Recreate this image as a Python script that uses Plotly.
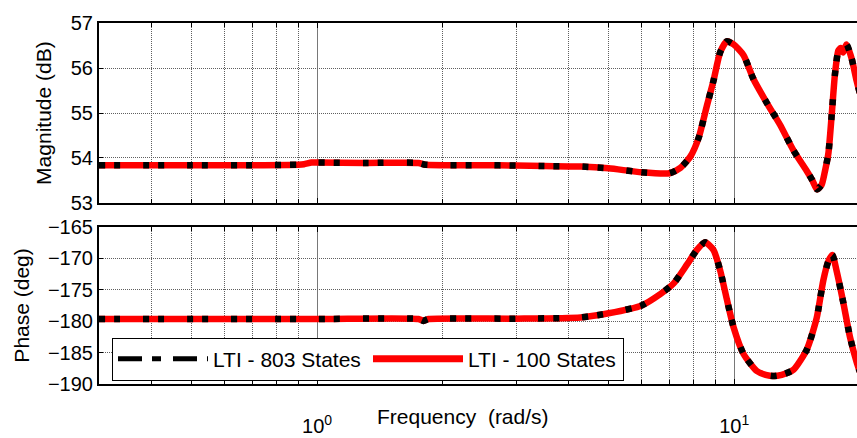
import math
import plotly.graph_objects as go

# ---- data ----
mag_freq = [0.3, 0.5, 0.7, 0.9, 0.93, 0.97, 1.0, 1.3, 1.75, 1.82, 2.5, 3.0, 3.5, 4.28, 5.0, 6.0, 7.0,
            7.43, 7.85, 8.22, 8.6, 8.92, 9.26, 9.6, 9.97, 10.53, 11.12, 11.97, 12.88, 13.87, 14.93,
            15.4, 15.8, 16.2, 16.5, 16.82, 17.13, 17.44, 17.77, 18.0, 18.26, 18.6, 19.12, 19.66, 20.0]
mag_db = [53.84, 53.84, 53.84, 53.85, 53.86, 53.9, 53.9, 53.89, 53.89, 53.85, 53.84, 53.83, 53.82, 53.81,
          53.77, 53.68, 53.66, 53.78, 54.03, 54.45, 55.16, 55.72, 56.36, 56.6, 56.53, 56.29, 55.76,
          55.23, 54.74, 54.17, 53.71, 53.5, 53.3, 53.4, 53.7, 54.1, 54.95, 55.86, 56.39, 56.45, 56.35,
          56.53, 56.22, 55.72, 55.45]

ph_freq = [0.3, 1.0, 1.75, 1.8, 1.85, 3.0, 4.28, 5.0, 6.0, 6.65, 7.16, 7.71, 8.14, 8.52, 8.92, 9.26,
           9.6, 9.97, 10.53, 11.33, 11.9, 12.42, 13.0, 13.87, 14.93, 15.77, 16.36, 16.82, 17.2, 17.6, 18.26,
           18.95, 19.66, 20.0]
ph_deg = [-179.65, -179.65, -179.65, -179.95, -179.65, -179.6, -179.4, -178.75, -177.5, -175.7, -174.0,
          -171.0, -168.7, -167.5, -168.7, -172.0, -176.5, -181.0, -185.2, -187.9, -188.5, -188.7, -188.5,
          -187.7, -184.5, -179.5, -173.5, -170.5, -169.5, -172.0, -177.0, -182.5, -186.5, -188.0]

series_names = ["LTI - 803 States", "LTI - 100 States"]
major_vals = [1, 10]
major_text = ["10<sup>0</sup>", "10<sup>1</sup>"]
minor_vals = [0.3, 0.4, 0.5, 0.6, 0.7, 0.8, 0.9, 2, 3, 4, 5, 6, 7, 8, 9, 20]
mag_ticks = [53, 54, 55, 56, 57]
ph_ticks = [-190, -185, -180, -175, -170, -165]

W, H = 857, 438
FONT = "Liberation Sans, Arial, sans-serif"
BLACK_DASH = "6px,9px,6px,23px"
LEG_DASH = "24px,10px,9px,12px"

fig = go.Figure()
# red (100 states) underneath, black (803 states) dashed on top
for xs, ys, ax in [(mag_freq, mag_db, ("x", "y")), (ph_freq, ph_deg, ("x2", "y2"))]:
    fig.add_trace(go.Scatter(x=xs, y=ys, mode="lines", xaxis=ax[0], yaxis=ax[1], showlegend=False,
                             line=dict(color="#ff0000", width=6.5, shape="spline", smoothing=0.6),
                             name=series_names[1]))
    fig.add_trace(go.Scatter(x=xs, y=ys, mode="lines", xaxis=ax[0], yaxis=ax[1], showlegend=False,
                             line=dict(color="#000000", width=6.5, dash=BLACK_DASH, shape="spline", smoothing=0.6),
                             name=series_names[0]))
# legend entries
fig.add_trace(go.Scatter(x=[None], y=[None], mode="lines", xaxis="x2", yaxis="y2", name=series_names[0],
                         line=dict(color="#000000", width=5, dash=LEG_DASH)))
fig.add_trace(go.Scatter(x=[None], y=[None], mode="lines", xaxis="x2", yaxis="y2", name=series_names[1],
                         line=dict(color="#ff0000", width=7)))

xr = [math.log10(0.3), math.log10(19.7)]
xdom = [99 / W, 1.0]
minor = dict(tickvals=minor_vals, ticks="inside", ticklen=4, tickcolor="black",
             showgrid=True, gridcolor="rgb(95,95,95)", griddash="1px,1px", gridwidth=1)
common_x = dict(type="log", range=xr, domain=xdom, tickmode="array", tickvals=major_vals, ticktext=major_text,
                ticks="inside", ticklen=5, tickcolor="black", showline=True, linecolor="black", linewidth=2,
                mirror="ticks", zeroline=False, showgrid=True, gridcolor="rgb(120,120,120)", gridwidth=1,
                minor=minor, tickfont=dict(size=20))
common_y = dict(ticks="inside", ticklen=4, tickcolor="black", showline=True, linecolor="black", linewidth=2,
                mirror=False, zeroline=False, showgrid=True, gridcolor="rgb(95,95,95)", griddash="1px,1px",
                gridwidth=1, tickfont=dict(size=20))

fig.update_layout(
    width=W, height=H, margin=dict(l=0, r=0, t=0, b=0),
    paper_bgcolor="white", plot_bgcolor="white",
    font=dict(family=FONT, size=21, color="black"),
    xaxis=dict(anchor="y", showticklabels=False, **common_x),
    xaxis2=dict(anchor="y2", showticklabels=True, ticklabelstandoff=23, **common_x),
    yaxis=dict(domain=[1 - 202 / H, 1 - 13 / H], range=[53, 57], tickvals=mag_ticks,
               title=dict(text="Magnitude (dB)", standoff=13, font=dict(size=21)), **common_y),
    yaxis2=dict(domain=[1 - 393 / H, 1 - 227 / H], range=[-190, -165], tickvals=ph_ticks,
                title=dict(text="Phase (deg)", standoff=13, font=dict(size=21)), **common_y),
    legend=dict(orientation="h", x=112 / W, y=1 - 344 / H, xanchor="left", yanchor="top",
                bgcolor="white", bordercolor="black", borderwidth=1, itemwidth=90, entrywidth=150,
                font=dict(family=FONT, size=21)),
    annotations=[dict(text="Frequency  (rad/s)", x=463 / W, y=1 - 427 / H, xref="paper", yref="paper",
                      showarrow=False, xanchor="center", yanchor="middle", font=dict(size=21))],
)

fig.write_html("out.html")
